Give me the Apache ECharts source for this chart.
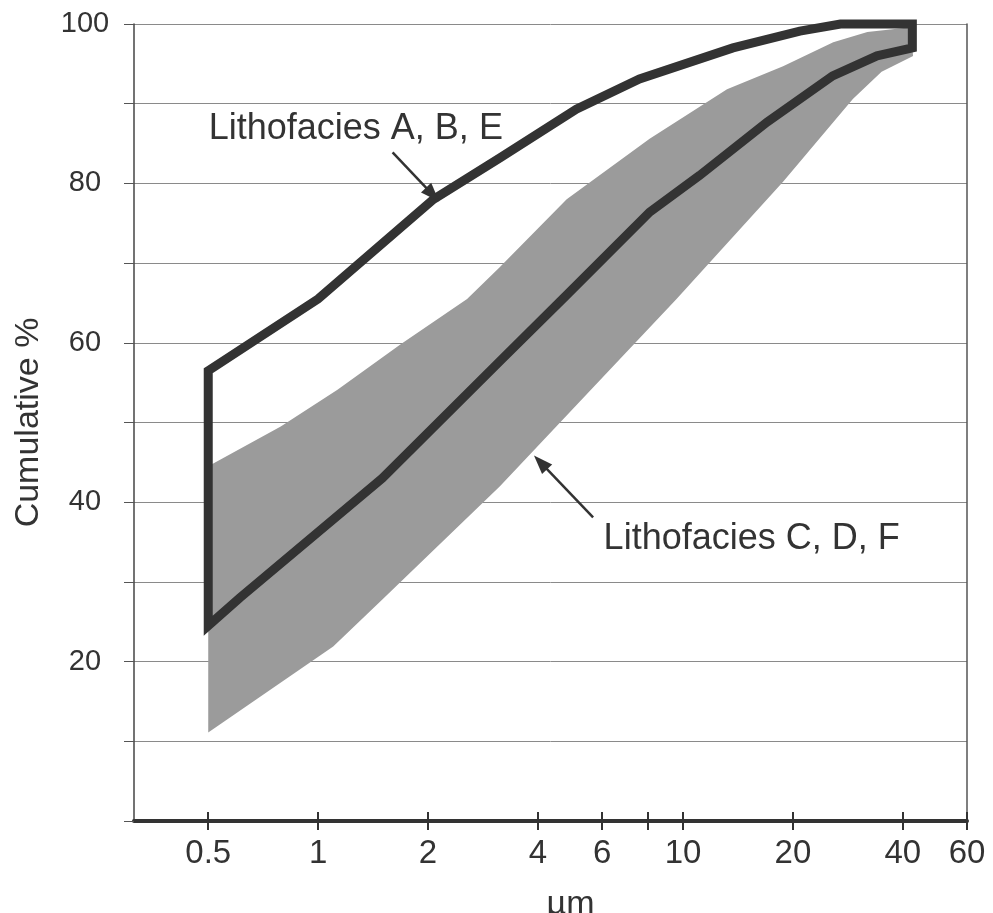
<!DOCTYPE html>
<html>
<head>
<meta charset="utf-8">
<title>Cumulative grain size</title>
<script src="https://cdn.jsdelivr.net/npm/echarts@6/dist/echarts.min.js"></script>
<style>
  html, body { margin: 0; padding: 0; background: #fff; }
  #chart { width: 993px; height: 913px; }
</style>
</head>
<body>
<div id="chart"></div>
<script>
  // grain size (µm, log scale) vs cumulative %
  const xTickLabels = [0.5, 1, 2, 4, 6, 10, 20, 40, 60]
  const xTickMarks = [0.5, 1, 2, 4, 6, 8, 10, 20, 40, 60]
  const yTickLabels = [20, 40, 60, 80, 100]

  // Lithofacies C, D, F : grey envelope
  const cdfUpper = [[0.5, 44.5], [0.79, 49.5], [1.13, 54.1], [1.68, 59.8], [2.56, 65.5], [3.15, 69.5], [4.8, 78], [8.1, 85.6], [13.2, 91.8], [18.8, 94.7], [25.8, 97.7], [32, 99], [42, 99.6]]
  const cdfLower = [[0.5, 11.1], [1.1, 21.9], [1.5, 27.8], [3.15, 42], [9.6, 65.5], [18.8, 80.2], [29.2, 90.6], [35, 94], [42.7, 96]]

  // Lithofacies A, B, E : outlined envelope
  const abeUpper = [[0.5, 56.5], [1, 65.5], [2.07, 78], [3.15, 83.2], [5.1, 89.3], [7.6, 93.1], [13.7, 97], [20.9, 99.1], [27, 100], [42.5, 100]]
  const abeLower = [[0.5, 24.5], [0.61, 28], [1.5, 43], [3.15, 57.7], [4.8, 66], [8.1, 76.4], [11.1, 81], [17, 87.7], [25.7, 93.5], [34, 96], [42.5, 97]]

  // annotation arrows (tail, head) and labels
  const arrowAbe = [[1.6, 83.9], [2.06, 78.6]]
  const arrowCdf = [[5.67, 38.1], [4.07, 45.0]]
  const labelAbe = [0.5, 86.8]
  const labelCdf = [6.04, 35.4]

  const font = 'Liberation Sans, Arial, sans-serif'
  const ink = '#333'

  const bandPoly = cdfUpper.concat(cdfLower.slice().reverse())
  const outlinePoly = abeUpper.concat(abeLower.slice().reverse())

  const polygonSeries = (name, poly, style) => ({
    type: 'custom',
    name: name,
    xAxisIndex: 0,
    yAxisIndex: 0,
    data: poly,
    silent: true,
    renderItem: (params, api) => {
      if (params.dataIndex !== 0) return
      return {
        type: 'polygon',
        shape: { points: poly.map(p => api.coord(p)) },
        style: style
      }
    }
  })

  let chart = echarts.init(document.getElementById('chart'))
  let option = {
    animation: false,
    grid: { left: 134, right: 26, top: 24, bottom: 92, containLabel: false, outerBoundsMode: 'none' },
    xAxis: [{
      type: 'log',
      min: 0.313,
      max: 60,
      axisLine: { lineStyle: { color: ink, width: 4 } },
      axisTick: { show: true, customValues: xTickMarks, length: 9, lineStyle: { color: ink, width: 2 } },
      axisLabel: { customValues: xTickLabels, fontSize: 33, color: ink, margin: 16, fontFamily: font, formatter: v => String(+v.toPrecision(3)) },
      splitLine: { show: false },
      name: 'µm',
      nameLocation: 'middle',
      nameGap: 67,
      nameTextStyle: { fontSize: 34, color: ink, fontFamily: font, padding: [0, 0, 0, 40] }
    }, {
      type: 'log',
      min: 0.313,
      max: 60,
      position: 'bottom',
      offset: 0,
      axisLine: { show: false },
      axisTick: { show: true, inside: true, customValues: xTickMarks, length: 9, lineStyle: { color: ink, width: 2 } },
      axisLabel: { show: false },
      splitLine: { show: false }
    }],
    yAxis: [{
      type: 'value',
      min: 0,
      max: 100,
      interval: 10,
      axisLine: { show: true, lineStyle: { color: '#444', width: 1.5 } },
      axisTick: { show: true, length: 10, lineStyle: { color: '#555', width: 1 } },
      axisLabel: { customValues: yTickLabels, fontSize: 29, color: ink, margin: 49, align: 'center', fontFamily: font },
      splitLine: { lineStyle: { color: '#8a8a8a', width: 1 } },
      name: 'Cumulative %',
      nameLocation: 'middle',
      nameGap: 88,
      nameTextStyle: { fontSize: 34, color: ink, fontFamily: font }
    }, {
      type: 'value',
      min: 0,
      max: 100,
      position: 'right',
      axisLine: { show: true, lineStyle: { color: '#555', width: 1.5 } },
      axisTick: { show: false },
      axisLabel: { show: false },
      splitLine: { show: false }
    }],
    series: [
      polygonSeries('Lithofacies C, D, F', bandPoly, { fill: '#9b9b9b' }),
      polygonSeries('Lithofacies A, B, E', outlinePoly, { fill: 'none', stroke: ink, lineWidth: 9, lineJoin: 'miter' }),
      {
        type: 'line',
        name: 'annotations',
        xAxisIndex: 0,
        yAxisIndex: 0,
        data: [],
        silent: true,
        markLine: {
          silent: true,
          symbol: ['none', 'triangle'],
          symbolSize: [14, 19],
          lineStyle: { color: ink, width: 2.5, type: 'solid' },
          label: { show: false },
          data: [
            [{ coord: arrowAbe[0] }, { coord: arrowAbe[1] }],
            [{ coord: arrowCdf[0] }, { coord: arrowCdf[1] }]
          ]
        },
        markPoint: {
          silent: true,
          symbol: 'rect',
          symbolSize: 1,
          itemStyle: { color: 'rgba(0,0,0,0)' },
          label: { show: true, position: 'right', distance: 0, color: ink, fontSize: 36, fontFamily: font, formatter: '{b}' },
          data: [
            { name: 'Lithofacies A, B, E', coord: labelAbe },
            { name: 'Lithofacies C, D, F', coord: labelCdf }
          ]
        }
      }
    ]
  }
  chart.setOption(option)
  window.addEventListener('resize', function () {
    chart.resize()
  })
</script>
</body>
</html>
